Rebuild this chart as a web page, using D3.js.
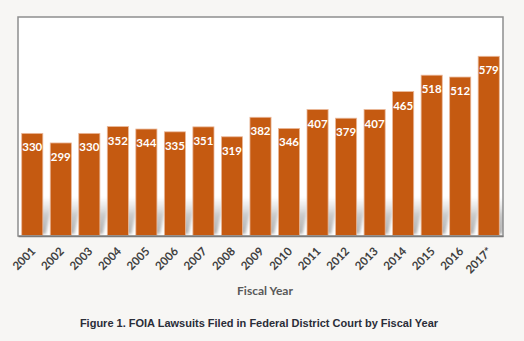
<!DOCTYPE html>
<html>
<head>
<meta charset="utf-8">
<script src="https://cdn.jsdelivr.net/npm/d3@7"></script>
<style>
  html, body { margin: 0; padding: 0; background: #f7f6f4; }
  svg { display: block; }
</style>
</head>
<body>
<svg id="chart" width="524" height="341"></svg>
<script>
// FOIA lawsuits filed per fiscal year
const years = ["2001","2002","2003","2004","2005","2006","2007","2008","2009",
               "2010","2011","2012","2013","2014","2015","2016","2017*"];
const lawsuits = [330, 299, 330, 352, 344, 335, 351, 319, 382,
                  346, 407, 379, 407, 465, 518, 512, 579];
const xAxisTitle = "Fiscal Year";
const caption = "Figure 1. FOIA Lawsuits Filed in Federal District Court by Fiscal Year";

const W = 524, H = 341;
const plot = { left: 18, top: 17, right: 503, bottom: 236 };
const barColor = "#c55a11";

const svg = d3.select("#chart");

const x = d3.scaleBand()
  .domain(years)
  .range([plot.left, plot.right])
  .paddingInner(0.26)
  .paddingOuter(0.13);

const y = d3.scaleLinear()
  .domain([0, 706])
  .range([235.5, plot.top]);

const defs = svg.append("defs");
defs.append("clipPath").attr("id", "plotClip")
  .append("rect")
  .attr("x", plot.left).attr("y", plot.top)
  .attr("width", plot.right - plot.left).attr("height", plot.bottom - plot.top);

const shGrad = defs.append("linearGradient")
  .attr("id", "shadowGrad").attr("x1", 0).attr("y1", 1).attr("x2", 0).attr("y2", 0);
shGrad.append("stop").attr("offset", "0%").attr("stop-color", "#b0b0b0").attr("stop-opacity", 1);
shGrad.append("stop").attr("offset", "50%").attr("stop-color", "#bdbdbd").attr("stop-opacity", 0.8);
shGrad.append("stop").attr("offset", "100%").attr("stop-color", "#d8d8d8").attr("stop-opacity", 0);

defs.append("filter").attr("id", "soft")
  .attr("x", "-50%").attr("y", "-50%").attr("width", "200%").attr("height", "200%")
  .append("feGaussianBlur").attr("stdDeviation", 1.5);

// plot area panel
svg.append("rect")
  .attr("x", plot.left).attr("y", plot.top)
  .attr("width", plot.right - plot.left).attr("height", plot.bottom - plot.top)
  .attr("fill", "#ffffff");

// soft perspective shadows behind the bars
const shadowH = 40, skew = 8;
svg.append("g").attr("clip-path", "url(#plotClip)")
  .selectAll("path")
  .data(years)
  .join("path")
  .attr("d", d => {
    const x0 = x(d) + x.bandwidth() * 0.2, x1 = x(d) + x.bandwidth() + 3;
    const yb = plot.bottom - 2, yt = plot.bottom - shadowH;
    return `M${x0},${yb} L${x1},${yb} L${x1 + skew},${yt} L${x0 + skew},${yt} Z`;
  })
  .attr("fill", "url(#shadowGrad)")
  .attr("filter", "url(#soft)");

// bars
const rows = years.map((yr, i) => ({ yr, v: lawsuits[i] }));
svg.append("g")
  .selectAll("rect")
  .data(rows)
  .join("rect")
  .attr("x", d => x(d.yr))
  .attr("y", d => y(d.v))
  .attr("width", x.bandwidth())
  .attr("height", d => y(0) - y(d.v))
  .attr("fill", barColor)
  .attr("stroke", "#eab89a")
  .attr("stroke-width", 0.8);

// value labels
svg.append("g")
  .selectAll("text")
  .data(rows)
  .join("text")
  .attr("x", d => x(d.yr) + x.bandwidth() / 2)
  .attr("y", d => y(d.v) + 18)
  .attr("text-anchor", "middle")
  .attr("fill", "#ffffff")
  .attr("font-family", "Lato, 'Open Sans', sans-serif")
  .attr("font-weight", "bold")
  .attr("font-size", 11.5)
  .text(d => d.v);

// plot frame
svg.append("rect")
  .attr("x", plot.left).attr("y", plot.top)
  .attr("width", plot.right - plot.left).attr("height", plot.bottom - plot.top)
  .attr("fill", "none")
  .attr("stroke", "#8e8e8e")
  .attr("stroke-width", 1.5);

// x axis
const xAxis = svg.append("g")
  .attr("transform", `translate(0,${plot.bottom})`)
  .call(d3.axisBottom(x).tickSize(0).tickPadding(0));
xAxis.select(".domain").attr("stroke", "#7a7a7a").attr("stroke-width", 1.5);
xAxis.selectAll("text")
  .attr("font-family", "Lato, 'Open Sans', sans-serif")
  .attr("font-weight", "bold")
  .attr("font-size", 11.5)
  .attr("fill", "#404040")
  .attr("text-anchor", "end")
  .attr("dy", null)
  .attr("transform", "translate(4,16) rotate(-45)");

// axis title
svg.append("text")
  .attr("x", 265).attr("y", 295)
  .attr("text-anchor", "middle")
  .attr("font-family", "Lato, 'Open Sans', sans-serif")
  .attr("font-weight", "bold")
  .attr("font-size", 12)
  .attr("fill", "#595959")
  .text(xAxisTitle);

// figure caption
svg.append("text")
  .attr("x", 259).attr("y", 327)
  .attr("text-anchor", "middle")
  .attr("font-family", "'Liberation Sans', Arial, sans-serif")
  .attr("font-weight", "bold")
  .attr("font-size", 11)
  .attr("fill", "#2a2d38")
  .text(caption);
</script>
</body>
</html>
